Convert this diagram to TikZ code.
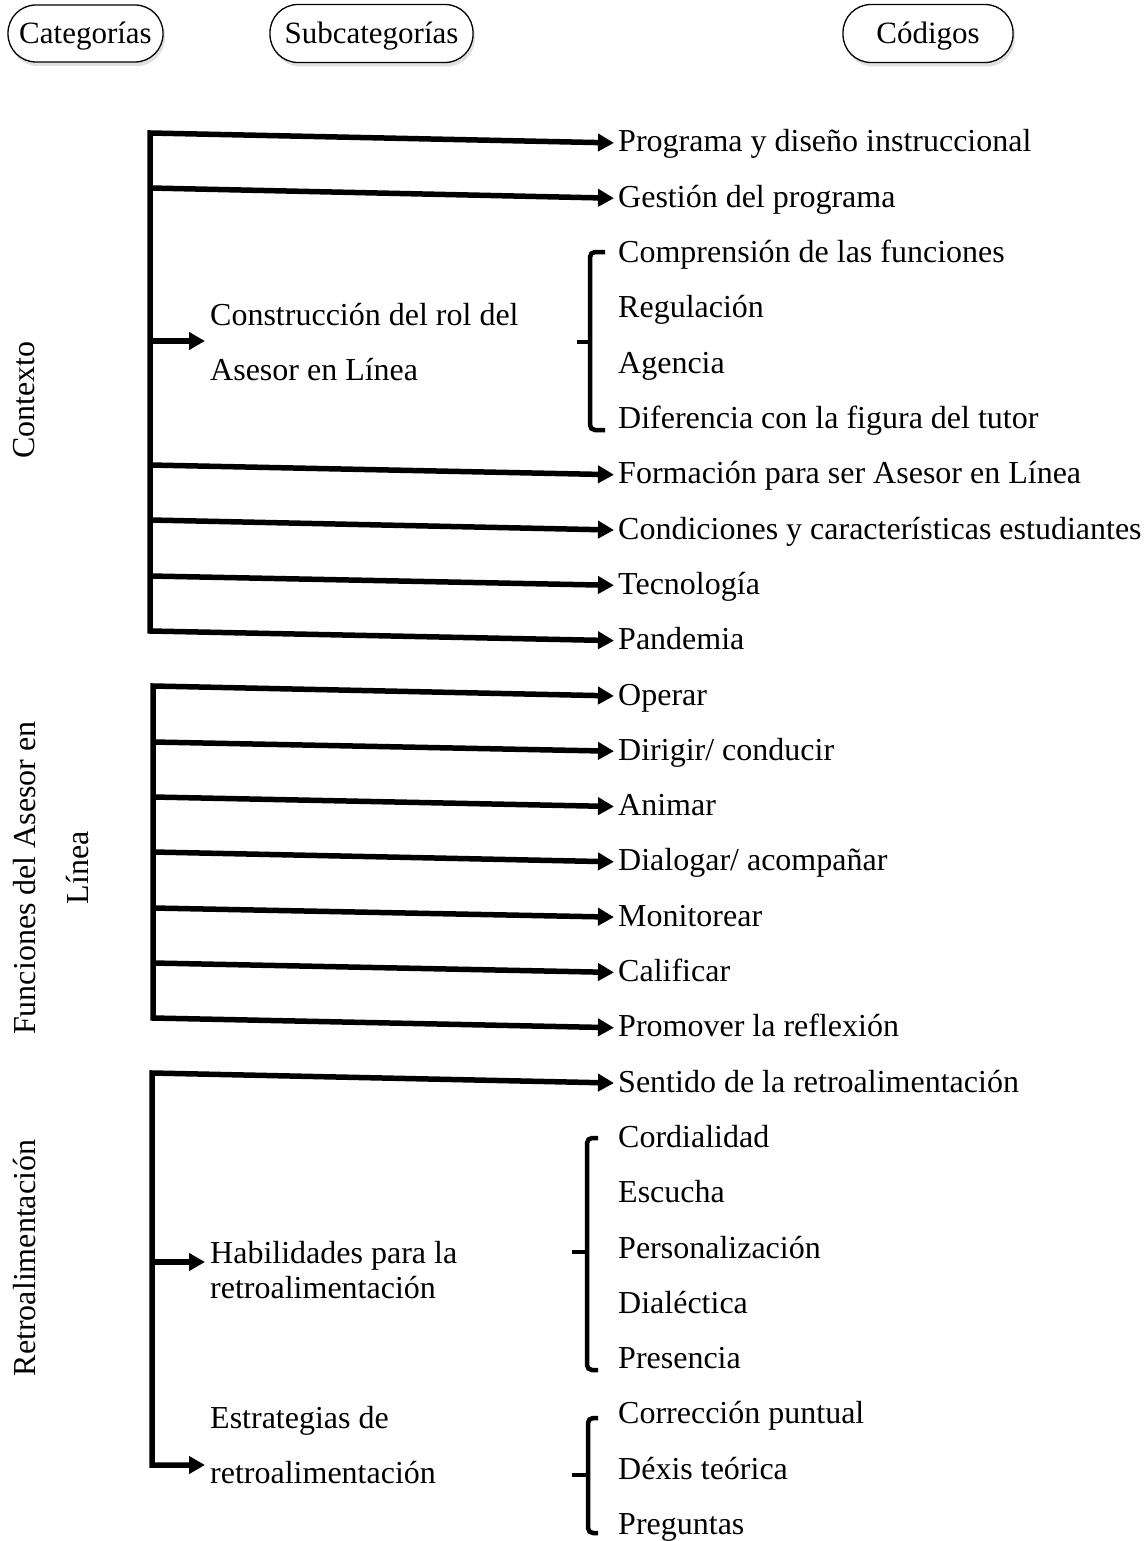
\documentclass[tikz,border=0pt]{standalone}
\usepackage{fontspec}
\setmainfont{Liberation Serif}
\usetikzlibrary{arrows.meta,shadows}
\begin{document}
\begin{tikzpicture}[x=1pt,y=-1pt,
  hdr/.style={draw,line width=1.3pt,rounded corners=28pt,inner sep=0pt,
    text height=21pt,text depth=0pt,
    font=\fontsize{31}{36}\selectfont,fill=white,
    drop shadow={shadow xshift=2pt,shadow yshift=-4pt,opacity=0.12,fill=black}},
  code/.style={anchor=base west,inner sep=0pt,text height=24pt,text depth=6pt,
    font=\fontsize{32}{38}\selectfont},
  sub/.style={anchor=base west,inner sep=0pt,align=left},
  cat/.style={anchor=base,rotate=90,inner sep=0pt,font=\fontsize{32}{38}\selectfont},
  arr/.style={line width=5.5pt,line join=miter,-{Triangle[length=16pt,width=17pt]},shorten >=4pt},
  arrs/.style={line width=5.5pt,line join=miter,{Triangle[length=16pt,width=17pt]}-{Triangle[length=16pt,width=17pt]},shorten >=4pt,shorten <=4pt},
  brk/.style={line width=4.5pt,rounded corners=5pt,line cap=butt}]
\useasboundingbox (0,0) rectangle (1146,1541);

% headers
\node[hdr,minimum width=155pt,minimum height=57pt] (hcat) at (85.5,33.5) {Categorías};
\node[hdr,minimum width=203pt,minimum height=58pt] (hsub) at (371.5,33.5) {Subcategorías};
\node[hdr,minimum width=170pt,minimum height=58pt] (hcod) at (928,33.5) {Códigos\hspace{18pt}};

% category labels
\node[cat] (kctx) at (34,400) {Contexto};
\node[cat] (kfun) at (35,878) {Funciones del Asesor en};
\node[cat] (klin) at (88,868) {Línea};
\node[cat] (kret) at (35,1258) {Retroalimentación};

% codes
\node[code] (c0) at (618,152) {Programa y diseño instruccional};
\node[code] (c1) at (618,207.3) {Gestión del programa};
\node[code] (c2) at (618,262.6) {Comprensión de las funciones};
\node[code] (c3) at (618,317.9) {Regulación};
\node[code] (c4) at (618,373.2) {Agencia};
\node[code] (c5) at (618,428.5) {Diferencia con la figura del tutor};
\node[code] (c6) at (618,483.8) {Formación para ser Asesor en Línea};
\node[code] (c7) at (618,539.1) {Condiciones y características estudiantes};
\node[code] (c8) at (618,594.4) {Tecnología};
\node[code] (c9) at (618,649.7) {Pandemia};
\node[code] (c10) at (618,705) {Operar};
\node[code] (c11) at (618,760.3) {Dirigir/ conducir};
\node[code] (c12) at (618,815.6) {Animar};
\node[code] (c13) at (618,870.9) {Dialogar/ acompañar};
\node[code] (c14) at (618,926.2) {Monitorear};
\node[code] (c15) at (618,981.5) {Calificar};
\node[code] (c16) at (618,1036.8) {Promover la reflexión};
\node[code] (c17) at (618,1092.1) {Sentido de la retroalimentación};
\node[code] (c18) at (618,1147.4) {Cordialidad};
\node[code] (c19) at (618,1202.7) {Escucha};
\node[code] (c20) at (618,1258) {Personalización};
\node[code] (c21) at (618,1313.3) {Dialéctica};
\node[code] (c22) at (618,1368.6) {Presencia};
\node[code] (c23) at (618,1423.9) {Corrección puntual};
\node[code] (c24) at (618,1479.2) {Déxis teórica};
\node[code] (c25) at (618,1534.5) {Preguntas};

% subcategories (anchor at baseline of last line)
\node[sub,font=\fontsize{32}{55}\selectfont] (s1) at (210,380) {Construcción del rol del\\Asesor en Línea};
\node[sub,font=\fontsize{32}{35}\selectfont] (s2) at (210,1298) {Habilidades para la\\retroalimentación};
\node[sub,font=\fontsize{32}{55}\selectfont] (s3) at (210,1483) {Estrategias de\\retroalimentación};

% trunk coordinates
\coordinate (a0) at (150,133);
\coordinate (a1) at (150,188);
\coordinate (as) at (150,341);
\coordinate (a6) at (150,465);
\coordinate (a7) at (150,520);
\coordinate (a8) at (150,576);
\coordinate (a9) at (150,631);

\coordinate (b10) at (153,686);
\coordinate (b11) at (153,742);
\coordinate (b12) at (153,797);
\coordinate (b13) at (153,852);
\coordinate (b14) at (153,908);
\coordinate (b15) at (153,963);
\coordinate (b16) at (153,1018);

\coordinate (r17) at (152,1073);
\coordinate (rs2) at (152,1262);
\coordinate (rs3) at (152,1465);

% Contexto
\draw[arrs] (c0.west) -- (a0) -- (a9) -- (c9.west);
\draw[arr] (a1) -- (c1.west);
\draw[arr] (a6) -- (c6.west);
\draw[arr] (a7) -- (c7.west);
\draw[arr] (a8) -- (c8.west);
\draw[arr,shorten >=5pt] (as) -- (as -| s1.west);

% Funciones
\draw[arrs] (c10.west) -- (b10) -- (b16) -- (c16.west);
\draw[arr] (b11) -- (c11.west);
\draw[arr] (b12) -- (c12.west);
\draw[arr] (b13) -- (c13.west);
\draw[arr] (b14) -- (c14.west);
\draw[arr] (b15) -- (c15.west);

% Retroalimentacion
\draw[arrs,shorten >=5pt] (c17.west) -- (r17) -- (rs3) -- (rs3 -| s3.west);
\draw[arr,shorten >=5pt] (rs2) -- (rs2 -| s2.west);

% brackets
\draw[brk] (605,252) -- (590,252) -- (590,430) -- (605,430);
\draw[brk] (590,342) -- (577,342);
\draw[brk] (598,1138) -- (587,1138) -- (587,1370) -- (598,1370);
\draw[brk] (587,1252) -- (572,1252);
\draw[brk] (598,1418) -- (588,1418) -- (588,1533) -- (598,1533);
\draw[brk] (588,1475) -- (572,1475);
\end{tikzpicture}
\end{document}
